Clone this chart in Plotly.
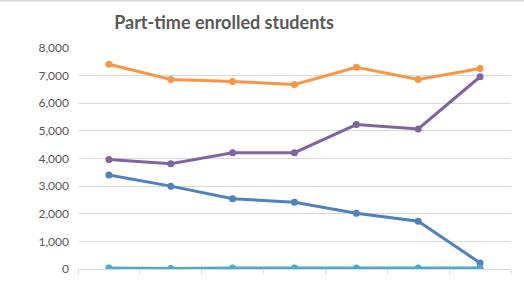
import plotly.graph_objects as go

# categories (no labels shown on the chart)
categories = ["1", "2", "3", "4", "5", "6", "7"]

series_a = [3400, 3000, 2540, 2420, 2020, 1730, 220]   # blue
series_b = [3960, 3810, 4210, 4210, 5230, 5070, 6960]  # purple
series_c = [40, 15, 40, 40, 40, 40, 40]                # teal
series_d = [7410, 6860, 6790, 6680, 7300, 6860, 7260]  # orange

colors = ["#4F81BD", "#8064A2", "#4BACC6", "#F79646"]

fig = go.Figure()
for vals, col in zip([series_a, series_b, series_c, series_d], colors):
    fig.add_trace(go.Scatter(
        x=categories, y=vals, mode="lines+markers",
        line=dict(color=col, width=3),
        marker=dict(color=col, size=7),
        hoverinfo="skip",
    ))

fig.update_layout(
    width=524, height=295,
    margin=dict(l=78, r=13, t=48, b=26),
    paper_bgcolor="white", plot_bgcolor="white",
    showlegend=False,
    title=dict(text="<b>Part-time enrolled students</b>", x=224 / 524, xanchor="center",
               y=1 - 23 / 295, yanchor="middle",
               font=dict(family="Lato", size=18, color="#595959")),
    font=dict(family="Lato", size=12, color="#595959"),
)
fig.update_xaxes(
    type="category", range=[-0.5, len(categories) - 0.5],
    showticklabels=False, showgrid=False,
    showline=True, linecolor="#D9D9D9", linewidth=1,
    ticks="outside", tickson="boundaries", ticklen=4, tickcolor="#D9D9D9",
    zeroline=False,
)
fig.update_yaxes(
    range=[0, 8000], dtick=1000, tickformat=",",
    showgrid=True, gridcolor="#D9D9D9", gridwidth=1,
    zeroline=False, showline=False, ticklabelstandoff=8,
)
# thin grey border line along the top of the picture
fig.add_shape(type="line", xref="paper", yref="paper", x0=-78 / 433, x1=1 + 13 / 433,
              y0=1 + 47.5 / 221, y1=1 + 47.5 / 221, line=dict(color="#D9D9D9", width=2))

fig.write_html("out.html", config={"displayModeBar": False},
               post_script="document.body.style.margin='0px';")
